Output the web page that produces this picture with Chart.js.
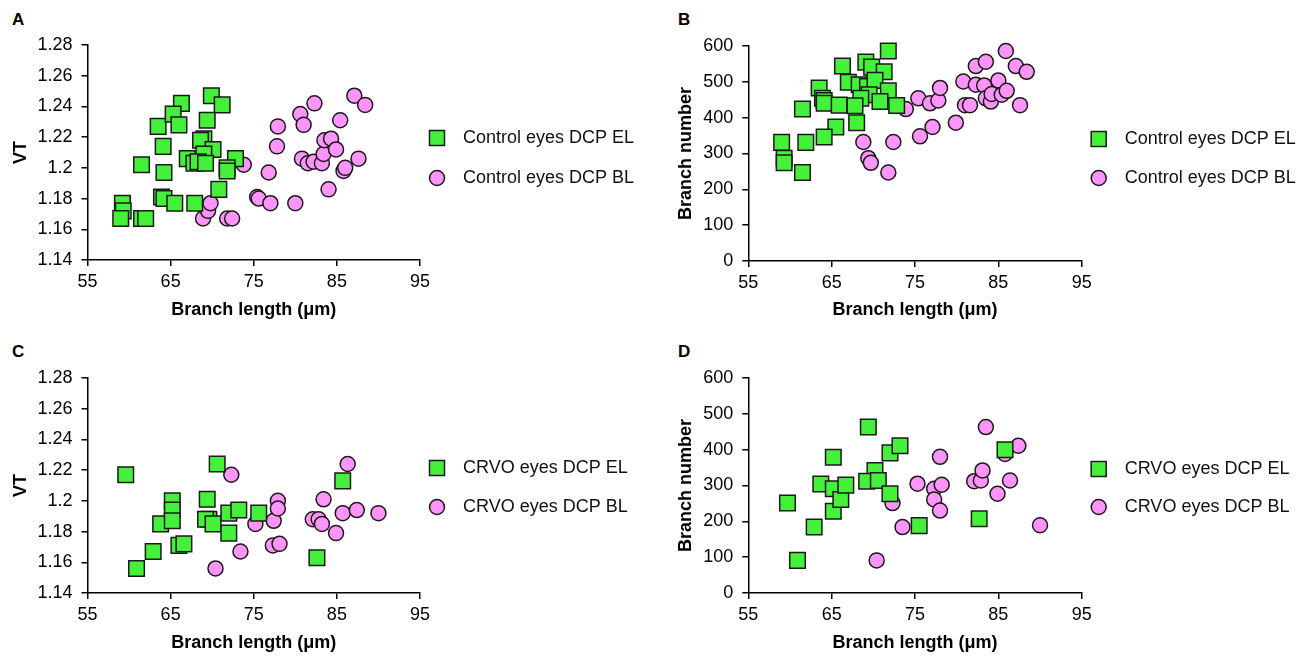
<!DOCTYPE html>
<html>
<head>
<meta charset="utf-8">
<script src="https://cdn.jsdelivr.net/npm/chart.js@4.4.0/dist/chart.umd.min.js"></script>
<style>
  body { margin: 0; background: #fff; width: 1312px; height: 656px; position: relative; overflow: hidden;
         font-family: "Liberation Sans", Arial, sans-serif; }
  .panel { position: absolute; width: 656px; height: 322px; }
  .letter { position: absolute; font-weight: bold; font-size: 17px; color: #000; }
</style>
</head>
<body>
<div class="letter" style="left:12px;top:10px">A</div>
<div class="letter" style="left:678px;top:10px">B</div>
<div class="letter" style="left:12px;top:342px">C</div>
<div class="letter" style="left:678px;top:342px">D</div>

<div class="panel" style="left:0;top:0"><canvas id="chartA" width="656" height="322"></canvas></div>
<div class="panel" style="left:656px;top:0"><canvas id="chartB" width="656" height="322"></canvas></div>
<div class="panel" style="left:0;top:333px"><canvas id="chartC" width="656" height="322"></canvas></div>
<div class="panel" style="left:656px;top:333px"><canvas id="chartD" width="656" height="322"></canvas></div>

<script>
/* ── Data ── */
const xTickLabels = ['55', '65', '75', '85', '95'];
const vtTickLabels = ['1.14', '1.16', '1.18', '1.2', '1.22', '1.24', '1.26', '1.28'];
const bnTickLabels = ['0', '100', '200', '300', '400', '500', '600'];

// A: control eyes, VT
const aElX = [59.2, 59.3, 59.0, 61.5, 62.0, 61.5, 63.5, 64.1, 64.2, 63.9, 64.2, 66.3, 65.3, 66.0, 65.5, 69.9,
  71.2, 69.4, 69.0, 68.6, 70.1, 69.0, 67.0, 67.8, 68.3, 69.2, 72.8, 71.8, 71.8, 70.8, 67.9];
const aElY = [1.177, 1.172, 1.167, 1.167, 1.167, 1.202, 1.227, 1.214, 1.197, 1.181, 1.180, 1.242, 1.235, 1.228,
  1.177, 1.247, 1.241, 1.231, 1.219, 1.218, 1.212, 1.209, 1.206, 1.203, 1.204, 1.203, 1.206, 1.200, 1.198, 1.186, 1.177];
const aBlX = [73.8, 76.8, 77.9, 77.8, 68.9, 69.5, 69.8, 71.8, 72.4, 75.4, 75.6, 77.0, 80.0, 80.6, 81.0, 82.3,
  80.8, 81.5, 82.2, 83.2, 83.4, 83.5, 84.3, 84.9, 84.0, 85.4, 87.1, 88.4, 87.6, 85.8, 86.0];
const aBlY = [1.202, 1.197, 1.227, 1.214, 1.167, 1.172, 1.177, 1.167, 1.167, 1.181, 1.180, 1.177, 1.177, 1.235,
  1.228, 1.242, 1.206, 1.203, 1.204, 1.203, 1.209, 1.218, 1.219, 1.212, 1.186, 1.231, 1.247, 1.241, 1.206, 1.198, 1.200];

// B: control eyes, branch number
const bElX = [71.8, 66.3, 69.1, 69.8, 71.3, 67.0, 68.3, 69.3, 70.2, 63.5, 63.9, 64.1, 64.1, 71.8, 69.5, 68.5,
  70.8, 65.9, 67.8, 72.8, 61.5, 68.0, 65.5, 64.1, 59.0, 61.9, 59.3, 59.3, 61.5];
const bElY = [586, 544, 555, 541, 528, 499, 492, 487, 504, 483, 454, 448, 440, 475, 464, 454,
  445, 435, 433, 434, 424, 386, 374, 346, 331, 331, 287, 274, 247];
const bBlX = [73.9, 75.4, 76.8, 77.8, 78.0, 68.8, 69.4, 69.7, 71.8, 72.4, 75.6, 77.1, 79.9, 80.8, 81.0, 81.6,
  82.3, 82.3, 83.3, 83.5, 83.5, 84.1, 84.2, 85.0, 85.4, 86.0, 85.9, 87.1, 88.4, 87.6];
const bBlY = [424, 454, 440, 448, 483, 332, 287, 274, 247, 332, 348, 374, 386, 501, 435, 435,
  544, 492, 490, 556, 454, 445, 466, 504, 464, 475, 586, 544, 528, 435];

// C: CRVO eyes, VT
const cElX = [59.6, 60.9, 62.9, 63.8, 65.2, 65.2, 65.2, 66.0, 66.6, 70.6, 69.4, 69.6, 69.2, 70.1, 72.0, 73.2,
  72.0, 75.6, 82.6, 85.7];
const cElY = [1.217, 1.156, 1.167, 1.185, 1.200, 1.194, 1.187, 1.171, 1.172, 1.224, 1.201, 1.188, 1.188, 1.185,
  1.192, 1.194, 1.179, 1.192, 1.163, 1.213];
const cBlX = [72.3, 70.4, 73.4, 75.2, 77.4, 77.9, 77.9, 77.3, 78.1, 86.3, 83.4, 82.1, 82.8, 83.2, 85.7, 87.4,
  84.9, 90.0];
const cBlY = [1.217, 1.156, 1.167, 1.185, 1.187, 1.200, 1.195, 1.171, 1.172, 1.224, 1.201, 1.188, 1.188, 1.185,
  1.192, 1.194, 1.179, 1.192];

// D: CRVO eyes, branch number
const dElX = [59.7, 60.9, 62.9, 63.7, 65.2, 65.2, 65.2, 66.1, 66.7, 69.4, 70.2, 69.2, 70.6, 72.0, 73.2, 72.0,
  75.5, 82.7, 85.8];
const dElY = [251, 91, 184, 304, 379, 291, 228, 261, 301, 463, 342, 312, 314, 391, 411, 277, 188, 207, 400];
const dBlX = [75.3, 78.0, 72.3, 70.4, 73.5, 77.3, 78.2, 77.3, 78.0, 83.5, 82.1, 82.9, 83.1, 85.8, 87.4, 86.4,
  84.9, 90.0];
const dBlY = [305, 380, 251, 91, 184, 291, 302, 261, 230, 463, 312, 314, 342, 388, 411, 314, 277, 189];

/* ── Styling ── */
const FONT = '"Liberation Sans", Arial, sans-serif';
const GREEN = '#45f03a';
const PINK = '#ff94fb';
const EDGE = '#1a1a1a';

function toPoints(xs, ys) {
  return xs.map((x, i) => ({ x: x, y: ys[i] }));
}

/* ── Legend to the right of the plot ── */
const sideLegend = {
  id: 'sideLegend',
  afterDraw(chart, args, opts) {
    const { ctx, chartArea } = chart;
    ctx.save();
    chart.data.datasets.forEach((ds, i) => {
      const y = chartArea.top + opts.rows[i];
      const x = chartArea.right + 17;
      ctx.fillStyle = ds.backgroundColor;
      ctx.strokeStyle = ds.borderColor;
      ctx.lineWidth = 1.5;
      ctx.beginPath();
      if (ds.pointStyle === 'rect') ctx.rect(x - 7.5, y - 7.5, 15, 15);
      else ctx.arc(x, y, 7.5, 0, Math.PI * 2);
      ctx.fill();
      ctx.stroke();
      ctx.fillStyle = '#111';
      ctx.font = '18px ' + FONT;
      ctx.textBaseline = 'middle';
      ctx.fillText(ds.label, chartArea.right + 43, y);
    });
    ctx.restore();
  }
};

function axisStyle(extra) {
  return Object.assign({
    grid: { drawOnChartArea: false, drawTicks: true, tickLength: 6, color: '#000', lineWidth: 1.5 },
    border: { display: true, color: '#000', width: 1.5 },
  }, extra);
}

function makeChart(id, p) {
  new Chart(document.getElementById(id), {
    type: 'scatter',
    data: {
      datasets: [
        {
          label: p.labels[0], data: toPoints(p.elX, p.elY), clip: false,
          pointStyle: 'rect', pointRadius: 11, pointHoverRadius: 11,
          backgroundColor: GREEN, borderColor: EDGE, borderWidth: 1.5,
        },
        {
          label: p.labels[1], data: toPoints(p.blX, p.blY), clip: false,
          pointStyle: 'circle', pointRadius: 7.5, pointHoverRadius: 7.5,
          backgroundColor: PINK, borderColor: EDGE, borderWidth: 1.5,
        },
      ],
    },
    options: {
      responsive: false,
      animation: false,
      layout: { padding: { left: p.padLeft, right: p.padRight, top: p.padTop, bottom: 1 } },
      plugins: {
        legend: { display: false },
        tooltip: { enabled: false },
        sideLegend: { rows: p.rows },
      },
      scales: {
        x: axisStyle({
          type: 'linear', min: 55, max: 95,
          ticks: {
            stepSize: 10, padding: 5, color: '#000', font: { size: 18, family: FONT },
            callback: (v, i) => xTickLabels[i],
          },
          title: { display: true, text: 'Branch length (μm)', color: '#000', padding: 0,
            font: { size: 18, weight: 'bold', family: FONT } },
          afterFit: (s) => { s.height = p.padTop === 46 ? 60 : 61; },
        }),
        y: axisStyle({
          min: p.yMin, max: p.yMax,
          ticks: {
            stepSize: p.yStep, padding: 9, color: '#000', font: { size: 18, family: FONT },
            callback: (v, i) => p.yLabels[i],
          },
          title: { display: true, text: p.yTitle, color: '#000', padding: 0,
            font: { size: 18, weight: 'bold', family: FONT } },
          afterFit: (s) => { s.width = p.yAxisWidth; },
        }),
      },
    },
    plugins: [sideLegend],
  });
}

const vtAxis = { yMin: 1.14, yMax: 1.28, yStep: 0.02, yLabels: vtTickLabels, yTitle: 'VT',
  padLeft: 10.2, yAxisWidth: 77.3, padRight: 236 };
const bnAxis = { yMin: 0, yMax: 600, yStep: 100, yLabels: bnTickLabels, yTitle: 'Branch number',
  padLeft: 19.7, yAxisWidth: 72.6, padRight: 230.3 };

makeChart('chartA', Object.assign({}, vtAxis, {
  elX: aElX, elY: aElY, blX: aBlX, blY: aBlY, padTop: 45, rows: [93, 133],
  labels: ['Control eyes DCP EL', 'Control eyes DCP BL'],
}));
makeChart('chartB', Object.assign({}, bnAxis, {
  elX: bElX, elY: bElY, blX: bBlX, blY: bBlY, padTop: 46, rows: [93, 132],
  labels: ['Control eyes DCP EL', 'Control eyes DCP BL'],
}));
makeChart('chartC', Object.assign({}, vtAxis, {
  elX: cElX, elY: cElY, blX: cBlX, blY: cBlY, padTop: 45, rows: [90, 129],
  labels: ['CRVO eyes DCP EL', 'CRVO eyes DCP BL'],
}));
makeChart('chartD', Object.assign({}, bnAxis, {
  elX: dElX, elY: dElY, blX: dBlX, blY: dBlY, padTop: 45, rows: [91, 129],
  labels: ['CRVO eyes DCP EL', 'CRVO eyes DCP BL'],
}));
</script>
</body>
</html>
